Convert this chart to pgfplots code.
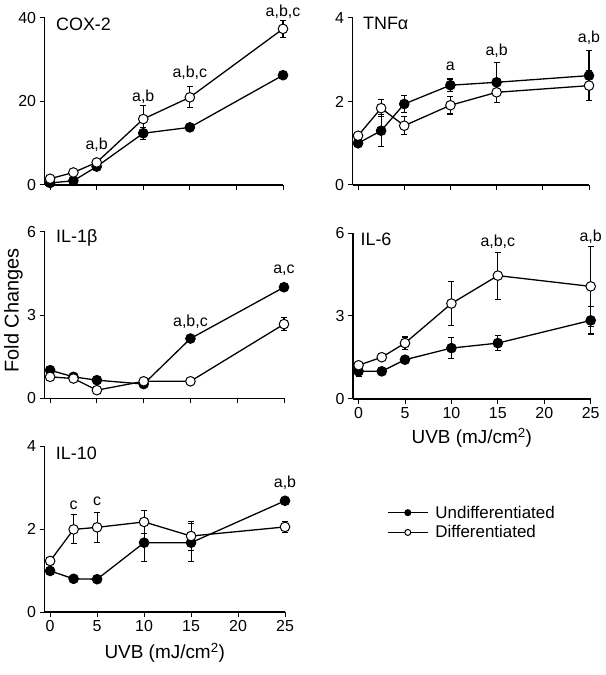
\documentclass[border=0pt]{standalone}
\usepackage{pgfplots}
\pgfplotsset{compat=1.18}
\usepackage{fontspec}
\setmainfont{Liberation Sans}
\newcommand{\tickfont}{\fontsize{16}{18}\selectfont}
\newcommand{\annfont}{\fontsize{16}{18}\selectfont}
\newcommand{\titfont}{\fontsize{18}{20}\selectfont}
\newcommand{\labfont}{\fontsize{19}{22}\selectfont}
\pgfplotsset{
  panel/.style={
    scale only axis, xmin=-0.6, xmax=25,
    axis x line*=bottom, axis y line*=left,
    xtick={0,5,10,15,20,25}, xticklabels={},
    tick align=outside, major tick length=5bp,
    every tick/.style={black, line width=1bp},
    axis line style={line width=1.2bp},
    yticklabel={\tickfont\pgfmathprintnumber{\tick}},
    tick label style={font=\tickfont},
    /pgf/number format/assume math mode=true,
    clip=false,
    legend image code/.code={
      \draw[mark repeat=2,mark phase=2,##1, mark size=3bp] plot coordinates {(0bp,0bp) (20bp,0bp) (40bp,0bp)};
    },
  },
  xlab/.style={xticklabels={{\tickfont 0},{\tickfont 5},{\tickfont 10},{\tickfont 15},{\tickfont 20},{\tickfont 25}}},
  undiff/.style={black, line width=1.3bp, mark=*, mark size=4.8bp, mark options={fill=black, line width=1bp}},
  diff/.style={black, line width=1.3bp, mark=*, mark size=4.8bp, mark options={fill=white, line width=1bp}},
  eb/.style={error bars/.cd, y dir=both, y explicit, error bar style={line width=1.1bp, black}, error mark options={rotate=90, mark size=3bp, line width=1.1bp, black}},
}
\begin{document}
\begin{tikzpicture}
\path (0bp,0bp) rectangle (606bp,675bp);

% ---------- COX-2 ----------
\begin{axis}[panel, at={(44.5bp,490bp)}, anchor=south west, width=238.5bp, height=167bp,
  ymin=0, ymax=40, ytick={0,20,40}]
\addplot[undiff, eb] table[x index=0, y index=1, y error index=2] {
0 0.5 0
2.5 1.0 0
5 4.4 0.4
10 12.4 1.4
15 13.8 0
25 26.3 0
};
\addplot[diff, eb] table[x index=0, y index=1, y error index=2] {
0 1.5 0
2.5 3.0 0
5 5.4 0.4
10 15.8 3.2
15 21.0 2.5
25 37.4 2.1
};
\node[font=\titfont, anchor=west] at (rel axis cs:0.034,0.96) {COX-2};
\node[font=\annfont] at (axis cs:5,9.6) {a,b};
\node[font=\annfont] at (axis cs:10,21.2) {a,b};
\node[font=\annfont] at (axis cs:15,26.8) {a,b,c};
\node[font=\annfont] at (axis cs:25,41.6) {a,b,c};
\end{axis}

% ---------- TNF ----------
\begin{axis}[panel, at={(352.5bp,490bp)}, anchor=south west, width=236.5bp, height=167bp,
  ymin=0, ymax=4, ytick={0,2,4}]
\addplot[undiff, eb] table[x index=0, y index=1, y error index=2] {
0 1.0 0.05
2.5 1.30 0.38
5 1.94 0.2
10 2.39 0.15
15 2.46 0.48
25 2.62 0.6
};
\addplot[diff, eb] table[x index=0, y index=1, y error index=2] {
0 1.18 0.05
2.5 1.84 0.2
5 1.42 0.22
10 1.91 0.21
15 2.22 0.24
25 2.38 0.36
};
\node[font=\titfont, anchor=west] at (rel axis cs:0.03,0.965) {TNFα};
\node[font=\annfont] at (axis cs:10,2.84) {a};
\node[font=\annfont] at (axis cs:15,3.22) {a,b};
\node[font=\annfont] at (axis cs:25,3.52) {a,b};
\end{axis}

% ---------- IL-1b ----------
\begin{axis}[panel, at={(44.5bp,276.5bp)}, anchor=south west, width=239.5bp, height=166.5bp,
  ymin=0, ymax=6, ytick={0,3,6},
  ylabel={Fold Changes}, ylabel style={font=\fontsize{20}{23}\selectfont, at={(rel axis cs:-0.13,0.53)}, anchor=center}]
\addplot[undiff, eb] table[x index=0, y index=1, y error index=2] {
0 1.02 0
2.5 0.78 0
5 0.66 0
10 0.52 0
15 2.16 0
25 4.01 0
};
\addplot[diff, eb] table[x index=0, y index=1, y error index=2] {
0 0.78 0
2.5 0.72 0
5 0.30 0
10 0.62 0
15 0.62 0
25 2.68 0.24
};
\node[font=\titfont, anchor=west] at (rel axis cs:0.034,0.964) {IL-1β};
\node[font=\annfont] at (axis cs:15,2.78) {a,b,c};
\node[font=\annfont] at (axis cs:25,4.62) {a,c};
\end{axis}

% ---------- IL-6 ----------
\begin{axis}[panel, xlab, at={(353bp,276bp)}, anchor=south west, width=237.7bp, height=166bp,
  ymin=0, ymax=6, ytick={0,3,6},
  xlabel={UVB (mJ/cm\textsuperscript{2})}, xlabel style={font=\labfont, at={(rel axis cs:0.5,-0.235)}, anchor=center}]
\addplot[undiff, eb] table[x index=0, y index=1, y error index=2] {
0 1.0 0.2
2.5 1.0 0
5 1.42 0.08
10 1.84 0.39
15 2.02 0.26
25 2.84 0.49
};
\addplot[diff, eb] table[x index=0, y index=1, y error index=2] {
0 1.22 0.15
2.5 1.51 0.05
5 2.02 0.22
10 3.45 0.8
15 4.46 0.85
25 4.07 1.45
};
\node[font=\titfont, anchor=west] at (rel axis cs:0.017,0.964) {IL-6};
\node[font=\annfont] at (axis cs:15,5.70) {a,b,c};
\node[font=\annfont] at (axis cs:25,5.88) {a,b};
\end{axis}

% ---------- IL-10 ----------
\begin{axis}[panel, xlab, at={(44.5bp,63bp)}, anchor=south west, width=240.5bp, height=166bp,
  ymin=0, ymax=4, ytick={0,2,4},
  xlabel={UVB (mJ/cm\textsuperscript{2})}, xlabel style={font=\labfont, at={(rel axis cs:0.5,-0.247)}, anchor=center},
  legend style={at={(axis description cs:1.424,0.653)}, anchor=north west, draw=none, fill=none,
    font=\fontsize{17}{20}\selectfont, inner sep=0pt, row sep=2bp, column sep=5bp, cells={anchor=west}},
  legend cell align=left]
\addplot[undiff, eb] table[x index=0, y index=1, y error index=2] {
0 0.99 0.05
2.5 0.80 0
5 0.79 0
10 1.67 0.46
15 1.67 0.46
25 2.68 0
};
\addlegendentry{Undifferentiated}
\addplot[diff, eb] table[x index=0, y index=1, y error index=2] {
0 1.23 0
2.5 1.99 0.35
5 2.04 0.36
10 2.17 0.28
15 1.83 0.34
25 2.05 0.14
};
\addlegendentry{Differentiated}
\node[font=\titfont, anchor=west] at (rel axis cs:0.033,0.958) {IL-10};
\node[font=\annfont] at (axis cs:2.5,2.58) {c};
\node[font=\annfont] at (axis cs:5,2.66) {c};
\node[font=\annfont] at (axis cs:25,3.11) {a,b};
\end{axis}
\end{tikzpicture}
\end{document}
